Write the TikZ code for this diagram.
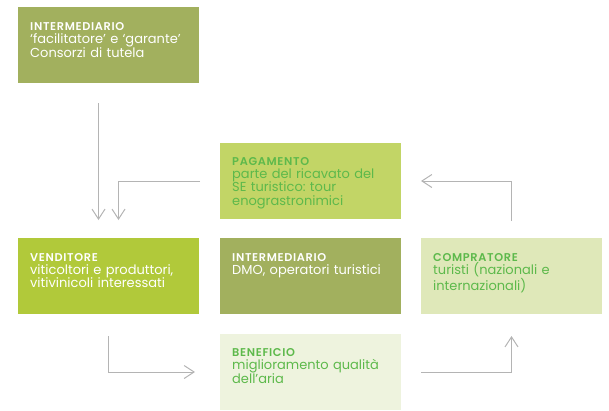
\documentclass[tikz,border=0pt]{standalone}
\usepackage{fontspec}
\setmainfont{Poppins}
\newfontfamily\headfont{Poppins}[UprightFont={* SemiBold}, LetterSpace=6]
\usetikzlibrary{arrows.meta, positioning}
\frenchspacing

\definecolor{olivebox}{HTML}{A2B05E}
\definecolor{limebox}{HTML}{B1C93A}
\definecolor{paybox}{HTML}{C2D566}
\definecolor{palebox}{HTML}{DFE8B9}
\definecolor{mistbox}{HTML}{EEF3DE}
\definecolor{leafgreen}{HTML}{5DB94B}
\definecolor{linegray}{HTML}{B4B4B4}

\tikzset{
	node distance = 20pt and 21pt,
	box/.style={
		rectangle,
		fill=#1,
		minimum width=181pt,
		minimum height=76pt,
		inner sep=0pt,
		outer sep=0pt
	},
	txt/.style={
		anchor=north west,
		inner sep=0pt,
		text width=168pt,
		align=left,
		font=\fontsize{13}{13.3}\selectfont,
		text=#1
	},
	flow/.style={
		-{Straight Barb[length=10pt, width=13pt]},
		draw=linegray,
		line width=1pt
	}
}
\newcommand{\head}[1]{{\headfont\fontsize{11.3}{13.3}\selectfont #1}}

\begin{document}
\begin{tikzpicture}[x=1pt, y=1pt]
		\useasboundingbox (0,0) rectangle (609,-410);

		% boxes
		\node[box=olivebox, anchor=north west] at (18,-7) (cons) {};
		\node[box=limebox, below=155pt of cons] (vend) {};
		\node[box=olivebox, right=of vend] (dmo) {};
		\node[box=palebox, right=20pt of dmo] (comp) {};
		\node[box=paybox, above right=19pt and 21pt of vend] (pag) {};
		\node[box=mistbox, below=of dmo] (ben) {};

		% texts
		\node[txt=white] at ([shift={(12pt,-15pt)}]cons.north west) (cons-t)
			{\head{INTERMEDIARIO}\\‘facilitatore’ e ‘garante’\\Consorzi di tutela};
		\node[txt=leafgreen] at ([shift={(12pt,-14pt)}]pag.north west) (pag-t)
			{\head{PAGAMENTO}\\parte del ricavato del\\SE turistico: tour\\enograstronimici};
		\node[txt=white] at ([shift={(12pt,-15pt)}]vend.north west) (vend-t)
			{\head{VENDITORE}\\viticoltori e produttori,\\vitivinicoli interessati};
		\node[txt=white] at ([shift={(12pt,-15pt)}]dmo.north west) (dmo-t)
			{\head{INTERMEDIARIO}\\DMO, operatori turistici};
		\node[txt=leafgreen] at ([shift={(12pt,-15pt)}]comp.north west) (comp-t)
			{\head{COMPRATORE}\\turisti (nazionali e\\internazionali)};
		\node[txt=leafgreen] at ([shift={(12pt,-14pt)}]ben.north west) (ben-t)
			{\head{BENEFICIO}\\miglioramento qualità\\dell’aria};

		% flows
		\draw[flow, shorten <=20pt, shorten >=18pt] ([xshift=-10pt]cons.south) -- ([xshift=-10pt]vend.north);
		\draw[flow, shorten <=20pt, shorten >=18pt] (pag.west) -| ([xshift=10pt]vend.north);
		\draw[flow, shorten <=17pt, shorten >=20pt] (comp.north) |- (pag.east);
		\draw[flow, shorten <=22pt, shorten >=25pt] (vend.south) |- (ben.west);
		\draw[flow, shorten <=20pt, shorten >=22pt] (ben.east) -| (comp.south);
	\end{tikzpicture}
\end{document}
